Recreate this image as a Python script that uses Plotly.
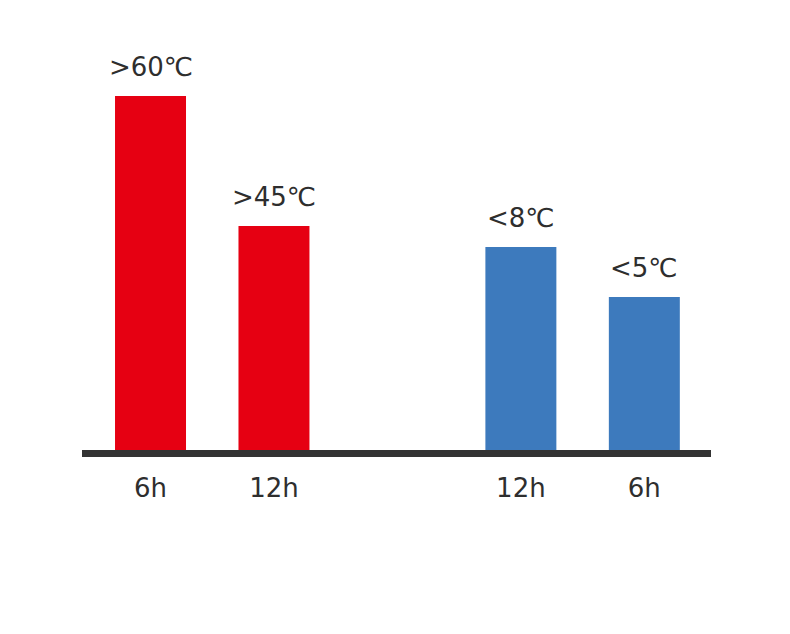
import plotly.graph_objects as go

# slot positions (slot 2 is the empty gap between the two groups)
positions = [0, 1, 3, 4]
tick_labels = ["6h", "12h", "12h", "6h"]
heights = [354, 224, 203, 153]
labels = [">60℃", ">45℃", "<8℃", "<5℃"]
colors = ["#E60012", "#E60012", "#3D7ABD", "#3D7ABD"]

text_color = "#2e2e2e"
font_family = "DejaVu Sans, sans-serif"

fig = go.Figure()
fig.add_trace(go.Bar(
    x=positions,
    y=heights,
    marker=dict(color=colors, line=dict(width=0)),
    width=0.575,
    hoverinfo="skip",
))

# value labels above bars
for xp, h, lab in zip(positions, heights, labels):
    fig.add_annotation(
        x=xp, y=h, text=lab,
        showarrow=False,
        xanchor="center", yanchor="bottom",
        yshift=12,
        font=dict(size=26, color=text_color, family=font_family),
    )

fig.update_layout(
    width=790,
    height=634,
    margin=dict(l=74, r=87, t=42, b=192),
    paper_bgcolor="white",
    plot_bgcolor="white",
    showlegend=False,
    font=dict(family=font_family, color=text_color),
    xaxis=dict(
        range=[-0.555, 4.54],
        tickvals=positions,
        ticktext=tick_labels,
        tickfont=dict(size=26, color=text_color),
        showline=True,
        linecolor="#333333",
        linewidth=7,
        ticks="outside",
        ticklen=9,
        tickcolor="rgba(0,0,0,0)",
        showgrid=False,
        zeroline=False,
        fixedrange=True,
    ),
    yaxis=dict(
        range=[0, 400],
        visible=False,
        showgrid=False,
        zeroline=False,
        fixedrange=True,
    ),
)

fig.write_html("out.html")
